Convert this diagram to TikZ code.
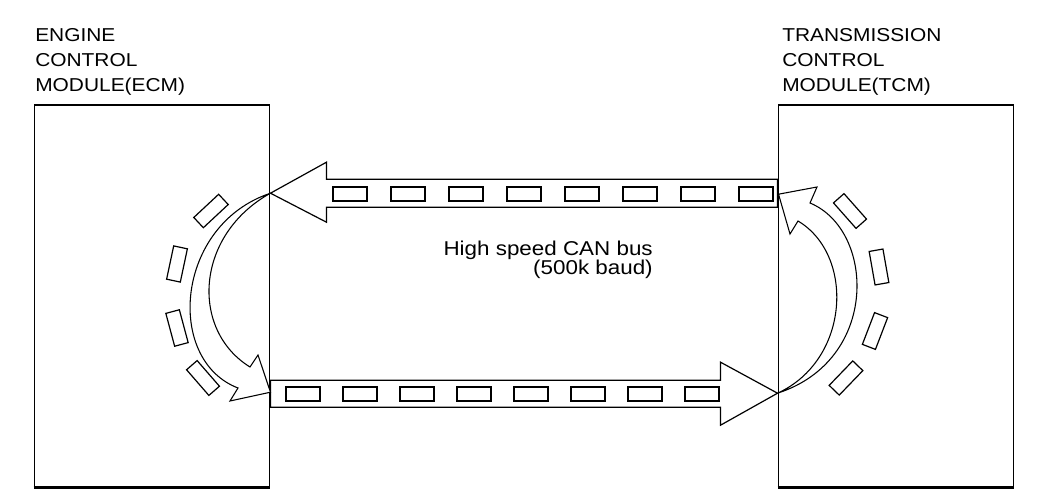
\documentclass[tikz,border=0pt]{standalone}
\usepackage{fontspec}
\setmainfont{Liberation Sans}[FakeStretch=1.12]
\usetikzlibrary{calc}
\begin{document}
\begin{tikzpicture}[x=0.75pt,y=-0.75pt,
  module/.style={draw,line width=1.2pt,inner sep=0pt,minimum width=176.5pt,minimum height=286.5pt},
  lbl/.style={align=left,inner sep=0pt,font=\fontsize{14pt}{18.75pt}\selectfont},
  buslbl/.style={inner sep=0pt,font=\fontsize{15pt}{18pt}\selectfont},
  packet/.style={draw,line width=0.9pt,inner sep=0pt,minimum width=25.5pt,minimum height=10.5pt},
  blockarrow/.style={draw,line width=0.9pt,fill=white,line join=miter},
  curvearrow/.style={draw,line width=0.8pt,fill=white,line join=miter}]
\useasboundingbox (0,0) rectangle (1056,502);

% modules
\node[module] (ecm) at (152,296) {};
\node[module] (tcm) at (896,296) {};
\draw[line width=2pt] (ecm.south west) -- (ecm.south east);
\draw[line width=2pt] (tcm.south west) -- (tcm.south east);

% labels
\node[lbl,anchor=north west] (ecmlbl) at (35,28) {ENGINE\\CONTROL\\MODULE(ECM)};
\node[lbl,anchor=north west] (tcmlbl) at (782,28) {TRANSMISSION\\CONTROL\\MODULE(TCM)};
\node[buslbl,anchor=base east] (busa) at (653,256) {High speed CAN bus};
\node[buslbl,anchor=base east] (busb) at (653,275) {(500k baud)};

% upper block arrow: TCM -> ECM
\coordinate (ut) at ($(ecm.north east)+(0,89)$);
\coordinate (ue) at ($(tcm.north west)+(0,75)$);
\draw[blockarrow] (ut) -- ($(ut)+(56,-31)$) -- ($(ut)+(56,-14)$) -- (ue)
  -- ($(ue)+(0,28)$) -- ($(ut)+(56,14)$) -- ($(ut)+(56,29)$) -- cycle;
\foreach \k [count=\i] in {0,...,7}
  \node[packet] (up\i) at (350+58*\k,194) {};

% lower block arrow: ECM -> TCM
\coordinate (ls) at ($(ecm.north east)+(0,276)$);
\coordinate (lt) at ($(tcm.north west)+(0,289)$);
\draw[blockarrow] (ls) -- ($(lt)+(-57,-13)$) -- ($(lt)+(-57,-31)$) -- (lt)
  -- ($(lt)+(-57,32)$) -- ($(lt)+(-57,14)$) -- ($(ls)+(0,27)$) -- cycle;
\foreach \k [count=\i] in {0,...,7}
  \node[packet] (lp\i) at (303+57*\k,394) {};

% left curved arrow (ECM loop)
\draw[curvearrow] (ut) .. controls (175,225) and (165,360) .. (238,388)
  -- (230,401) -- ($(ecm.north east)+(0,288)$) -- (258,355) -- (250,367)
  .. controls (190,330) and (195,235) .. (ut) -- cycle;

% right curved arrow (TCM loop)
\draw[curvearrow] (lt) .. controls (880,360) and (875,230) .. (810,203)
  -- (817,187) -- ($(tcm.north west)+(1,90)$) -- (790,234) -- (798,221)
  .. controls (855,255) and (850,360) .. (lt) -- cycle;

% tilted packets around the loops
\node[packet,rotate=43] (l1) at (211,211) {};
\node[packet,rotate=78] (l2) at (177,264) {};
\node[packet,rotate=105] (l3) at (177,328) {};
\node[packet,rotate=-49] (l4) at (203,378) {};
\node[packet,rotate=-48.5] (r1) at (850,211) {};
\node[packet,rotate=100] (r2) at (879,267) {};
\node[packet,rotate=69] (r3) at (875,331) {};
\node[packet,rotate=46] (r4) at (846,378) {};
\end{tikzpicture}
\end{document}
